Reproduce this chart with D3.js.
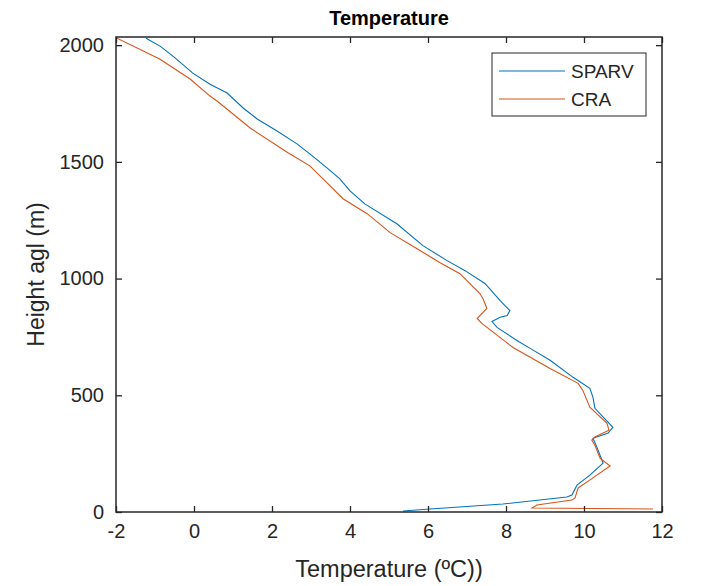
<!DOCTYPE html>
<html>
<head>
<meta charset="utf-8">
<script src="https://cdn.jsdelivr.net/npm/d3@7"></script>
<style>
  body { margin: 0; background: #fff; }
  text { font-family: "Liberation Sans", Arial, sans-serif; fill: #262626; }
</style>
</head>
<body>
<div id="chart"></div>
<script>
// Data (temperature in degC, height in m)
const sparvTemp = [-1.23, -0.87, -0.54, -0.03, 0.41, 0.85, 1.26, 1.62, 2.13, 2.64, 2.97, 3.41, 3.74, 4.0, 4.38, 5.2, 5.87, 6.49, 6.95, 7.46, 7.85, 8.10, 8.03, 7.85, 7.64, 7.77, 8.28, 8.62, 9.13, 9.72, 10.15, 10.23, 10.28, 10.74, 10.62, 10.23, 10.33, 10.49, 10.15, 9.82, 9.69, 9.56, 7.92, 6.05, 5.36];
const sparvHeight = [2030, 1996, 1953, 1880, 1833, 1795, 1731, 1684, 1632, 1577, 1534, 1474, 1427, 1376, 1320, 1235, 1141, 1077, 1034, 979, 906, 863, 842, 834, 816, 791, 735, 701, 650, 577, 530, 491, 444, 363, 338, 316, 278, 209, 158, 115, 73, 64, 34, 13, 4];

const craTemp = [-2.0, -0.87, -0.10, 0.41, 0.59, 1.44, 2.41, 2.97, 3.15, 3.31, 3.82, 4.44, 5.03, 5.72, 6.31, 6.82, 7.33, 7.41, 7.51, 7.26, 7.38, 8.18, 9.13, 9.85, 9.97, 10.15, 10.59, 10.64, 10.28, 10.2, 10.28, 10.41, 10.67, 10.07, 9.85, 9.77, 9.69, 8.79, 8.67, 11.77];
const craHeight = [2032, 1940, 1855, 1782, 1761, 1645, 1539, 1483, 1453, 1427, 1342, 1278, 1197, 1128, 1068, 1021, 936, 914, 872, 829, 808, 705, 615, 551, 521, 449, 380, 350, 321, 308, 286, 231, 197, 128, 103, 60, 51, 30, 17, 13];

const seriesNames = ["SPARV", "CRA"];
const seriesColors = ["#0072BD", "#D95319"];
const xTicks = [-2, 0, 2, 4, 6, 8, 10, 12];
const yTicks = [0, 500, 1000, 1500, 2000];

const width = 704, height = 586;
const plotLeft = 116, plotRight = 662, plotTop = 37, plotBottom = 512;

const svg = d3.select("#chart").append("svg")
  .attr("width", width)
  .attr("height", height);

const x = d3.scaleLinear().domain([-2, 12]).range([plotLeft, plotRight]);
const y = d3.scaleLinear().domain([0, 2035]).range([plotBottom, plotTop]);

const series = [
  sparvTemp.map((t, i) => ({ t, h: sparvHeight[i] })),
  craTemp.map((t, i) => ({ t, h: craHeight[i] }))
];

// clip lines to the plot box
svg.append("clipPath").attr("id", "clip")
  .append("rect").attr("x", plotLeft).attr("y", plotTop)
  .attr("width", plotRight - plotLeft).attr("height", plotBottom - plotTop);

const line = d3.line().x(d => x(d.t)).y(d => y(d.h));

svg.append("g").attr("clip-path", "url(#clip)")
  .selectAll("path")
  .data(series)
  .join("path")
  .attr("d", line)
  .attr("fill", "none")
  .attr("stroke", (d, i) => seriesColors[i])
  .attr("stroke-width", 1.1);

// axes with inward ticks (box on)
const plainFormat = d => String(d);

function styleAxis(g) {
  g.select(".domain").remove();
  g.selectAll(".tick line").attr("stroke", "#262626").attr("stroke-width", 1.3);
  g.selectAll(".tick text").attr("font-size", 20).attr("fill", "#262626");
}

svg.append("g")
  .attr("transform", `translate(0,${plotBottom})`)
  .call(d3.axisBottom(x).tickValues(xTicks).tickSize(-6).tickPadding(12).tickFormat(plainFormat))
  .call(styleAxis);

svg.append("g")
  .attr("transform", `translate(0,${plotTop})`)
  .call(d3.axisTop(x).tickValues(xTicks).tickSize(-6).tickFormat(""))
  .call(styleAxis);

svg.append("g")
  .attr("transform", `translate(${plotLeft},0)`)
  .call(d3.axisLeft(y).tickValues(yTicks).tickSize(-6).tickPadding(12).tickFormat(plainFormat))
  .call(styleAxis);

svg.append("g")
  .attr("transform", `translate(${plotRight},0)`)
  .call(d3.axisRight(y).tickValues(yTicks).tickSize(-6).tickFormat(""))
  .call(styleAxis);

svg.append("rect")
  .attr("x", plotLeft).attr("y", plotTop)
  .attr("width", plotRight - plotLeft).attr("height", plotBottom - plotTop)
  .attr("fill", "none")
  .attr("stroke", "#262626")
  .attr("stroke-width", 1.5);

// title and labels
svg.append("text")
  .attr("x", (plotLeft + plotRight) / 2).attr("y", 25)
  .attr("text-anchor", "middle")
  .attr("font-size", 20).attr("font-weight", "bold")
  .style("fill", "#000")
  .text("Temperature");

svg.append("text")
  .attr("x", (plotLeft + plotRight) / 2).attr("y", 577)
  .attr("text-anchor", "middle")
  .attr("font-size", 23.5)
  .text("Temperature (ºC))");

svg.append("text")
  .attr("transform", `translate(44,${(plotTop + plotBottom) / 2}) rotate(-90)`)
  .attr("text-anchor", "middle")
  .attr("font-size", 23)
  .text("Height agl (m)");

// legend
const legend = svg.append("g").attr("transform", "translate(492,53)");
legend.append("rect")
  .attr("width", 154).attr("height", 63)
  .attr("fill", "#fff")
  .attr("stroke", "#262626")
  .attr("stroke-width", 1);

seriesNames.forEach((name, i) => {
  const ly = 18 + i * 28;
  legend.append("line")
    .attr("x1", 7).attr("x2", 73)
    .attr("y1", ly).attr("y2", ly)
    .attr("stroke", seriesColors[i])
    .attr("stroke-width", 1.1);
  legend.append("text")
    .attr("x", 79).attr("y", ly)
    .attr("dy", "0.36em")
    .attr("font-size", 19)
    .text(name);
});
</script>
</body>
</html>
